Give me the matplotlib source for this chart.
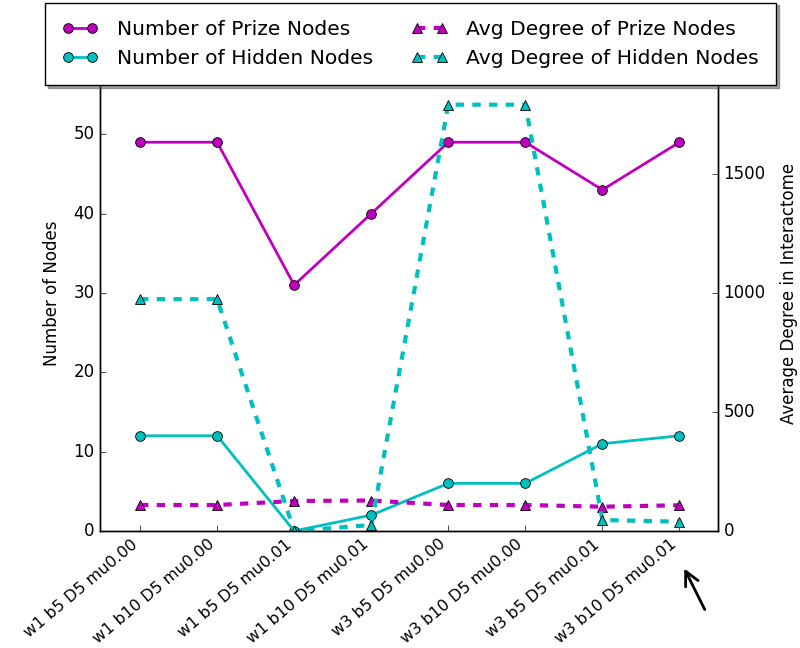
import matplotlib
matplotlib.use('Agg')
import matplotlib.pyplot as plt

runs = ['w1 b5 D5 mu0.00', 'w1 b10 D5 mu0.00', 'w1 b5 D5 mu0.01', 'w1 b10 D5 mu0.01',
        'w3 b5 D5 mu0.00', 'w3 b10 D5 mu0.00', 'w3 b5 D5 mu0.01', 'w3 b10 D5 mu0.01']
prize_nodes = [49, 49, 31, 40, 49, 49, 43, 49]
hidden_nodes = [12, 12, 0, 2, 6, 6, 11, 12]
prize_degree = [109, 109, 126, 128, 109, 109, 102, 108]
hidden_degree = [974, 974, 0, 25, 1791, 1791, 46, 39]

plt.style.use('classic')
plt.rcParams['figure.facecolor'] = 'white'
plt.rcParams['savefig.facecolor'] = 'white'

fig = plt.figure(figsize=(8, 6.48), dpi=100)
ax = fig.add_axes([0.125, 0.1806, 0.7725, 0.7346])
ax2 = ax.twinx()

x = list(range(len(runs)))
l1, = ax.plot(x, prize_nodes, '-o', color='m', lw=2, ms=7, mec='k', mew=0.6,
              label='Number of Prize Nodes')
l2, = ax.plot(x, hidden_nodes, '-o', color='c', lw=2, ms=7, mec='k', mew=0.6,
              label='Number of Hidden Nodes')
l3, = ax2.plot(x, prize_degree, '--^', color='m', lw=3, ms=7, mec='k', mew=0.6,
               label='Avg Degree of Prize Nodes')
l4, = ax2.plot(x, hidden_degree, '--^', color='c', lw=3, ms=7, mec='k', mew=0.6,
               label='Avg Degree of Hidden Nodes')

ax.set_xlim(-0.52, 7.5)
ax.set_ylim(0, 60)
ax2.set_ylim(0, 2000)
ax.set_yticks([0, 10, 20, 30, 40, 50])
ax2.set_yticks([0, 500, 1000, 1500])
ax.set_xticks(x)
ax.set_xticklabels(runs, rotation=40, ha='right', fontsize=11.5)
ax.tick_params(labelsize=12)
ax.tick_params(axis='x', labelsize=11.5)
ax2.tick_params(labelsize=12)
ax.set_ylabel('Number of Nodes', fontsize=12, labelpad=9)
ax2.set_ylabel('Average Degree in Interactome', fontsize=12, labelpad=10)

leg = fig.legend([l1, l2, l3, l4], [l.get_label() for l in [l1, l2, l3, l4]],
                 loc='upper center', bbox_to_anchor=(0.513, 0.996), ncol=2,
                 fontsize=14.6, shadow=True, numpoints=2, handlelength=1.8,
                 handletextpad=0.9, columnspacing=1.9, borderpad=0.85,
                 labelspacing=0.5, borderaxespad=0)
leg.set_zorder(10)

fig.add_artist(matplotlib.patches.FancyArrowPatch(
    (706 / 800, 1 - 612 / 648), (683 / 800, 1 - 566 / 648),
    transform=fig.transFigure, arrowstyle='->', mutation_scale=25,
    lw=2, color='k'))

fig.savefig('out.png', dpi=100)
